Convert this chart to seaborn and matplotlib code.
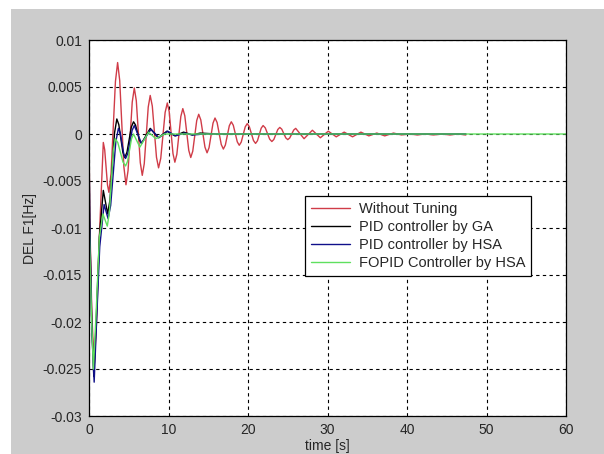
import matplotlib
matplotlib.use('Agg')
import matplotlib.pyplot as plt
from matplotlib.patches import Rectangle
import pandas as pd
import seaborn as sns

# Series (time in s, DEL F1 in Hz)
red_t = [0, 0.1, 0.35, 0.65, 0.95, 1.3, 1.8, 1.975, 2.325, 2.5, 2.775, 3.325,
         3.6, 3.8625, 4.3875, 4.65, 4.9125, 5.4375, 5.7, 5.95, 6.45, 6.7,
         6.95, 7.45, 7.7, 7.9625, 8.4875, 8.75, 9.025, 9.575, 9.85, 10.0875,
         10.5625, 10.8, 11.05, 11.55, 11.8, 12.05, 12.55, 12.8, 13.05, 13.55,
         13.8, 14.0625, 14.5875, 14.85, 15.1, 15.6, 15.85, 16.1125, 16.6375,
         16.9, 17.15, 17.65, 17.9, 18.15, 18.65, 18.9, 19.15, 19.65, 19.9,
         20.1625, 20.6875, 20.95, 21.19, 21.66, 21.9, 22.175, 22.725, 23.0,
         23.25, 23.75, 24.0, 24.25, 24.75, 25.0, 25.25, 25.75, 26.0, 27.05,
         28.1, 29.1, 30.1, 31.1, 32.1, 33.15, 34.2, 35.2, 36.2, 37.2, 38.3,
         39.3, 40.3, 41.3, 42.3, 43.35, 44.4, 45.4, 46.4, 47.4]
red_v = [0, -0.009, -0.019, -0.0248, -0.02, -0.011, -0.0009, -0.00168,
         -0.00542, -0.0062, -0.00418, 0.00558, 0.0076, 0.0057, -0.0035,
         -0.0054, -0.00389, 0.00339, 0.0049, 0.00354, -0.00304, -0.0044,
         -0.00316, 0.00286, 0.0041, 0.00297, -0.00247, -0.0036, -0.00259,
         0.00229, 0.0033, 0.00238, -0.00208, -0.0030, -0.00216, 0.00186,
         0.0027, 0.00194, -0.00174, -0.0025, -0.00183, 0.00143, 0.0021,
         0.00150, -0.00140, -0.0020, -0.00146, 0.00116, 0.0017, 0.00122,
         -0.00112, -0.0016, -0.00118, 0.00088, 0.0013, 0.00093, -0.00083,
         -0.0012, -0.00086, 0.00076, 0.0011, 0.00079, -0.00069, -0.0010,
         -0.00072, 0.00062, 0.0009, 0.00065, -0.00055, -0.0008, -0.00058,
         0.00048, 0.0007, 0.00051, -0.00041, -0.0006, -0.00042, 0.00042,
         0.0006, -0.0005, 0.0004, -0.0004, 0.0003, -0.0003, 0.0002, -0.0003,
         0.0002, -0.0002, 0.0001, -0.0002, 0.0001, -0.0001, 0.0, -0.0001,
         0.0, -0.0001, 0.0, -0.0001, 0.0, -0.0001]

ga_t = [0, 0.08, 0.35, 0.6, 0.9, 1.3, 1.8, 2.35, 2.6375, 3.2125, 3.5, 3.75,
        4.25, 4.5, 4.775, 5.325, 5.6, 5.85, 6.35, 6.6, 7.7, 8.7, 9.8, 10.8,
        11.9, 13.0, 14.0, 16, 20, 30, 40, 47.4]
ga_v = [0, -0.009, -0.02, -0.0258, -0.02, -0.011, -0.0060, -0.0085, -0.00702,
        0.00012, 0.0016, 0.0010, -0.0019, -0.0025, -0.00194, 0.00074, 0.0013,
        0.00096, -0.00066, -0.0010, 0.0006, -0.0004, 0.0003, -0.0002, 0.0002,
        -0.0001, 0.0001, 0, 0, 0, 0, 0]

hsa_t = [0, 0.08, 0.35, 0.65, 0.95, 1.35, 1.9, 2.4, 2.725, 3.375, 3.7, 3.925,
         4.375, 4.6, 4.875, 5.425, 5.7, 6.6, 7.8, 8.8, 9.9, 10.9, 12.0, 13.0,
         14.5, 20, 30, 40, 47.4]
hsa_v = [0, -0.009, -0.021, -0.0264, -0.02, -0.012, -0.0075, -0.0090, -0.0076,
         -0.0008, 0.0006, 0.00013, -0.00213, -0.0026, -0.00209, 0.00039,
         0.0009, -0.0010, 0.0005, -0.0004, 0.0003, -0.0002, 0.0001, -0.0001,
         0, 0, 0, 0, 0]

fopid_t = [0, 0.02, 0.3, 0.55, 0.9, 1.3, 1.75, 2.3, 2.55, 3.05, 3.3, 3.625,
           4.275, 4.6, 4.85, 5.35, 5.6, 6.4, 7.5, 8.4, 9.5, 11, 20, 30, 40,
           50, 60]
fopid_v = [0, -0.0092, -0.019, -0.0250, -0.019, -0.011, -0.0085, -0.0098,
           -0.00844, -0.00186, -0.0005, -0.00092, -0.00298, -0.0034, -0.0029,
           -0.0005, 0.0, -0.0014, 0.0002, -0.0005, 0.0, 0, 0, 0, 0, 0, 0]

labels = ['Without Tuning', 'PID controller by GA', 'PID controller by HSA',
          'FOPID Controller by HSA']
colors = ['#d03c48', '#000000', '#10108a', '#5fe05f']

xtick_vals = [0, 10, 20, 30, 40, 50, 60]
ytick_vals = [-0.03, -0.025, -0.02, -0.015, -0.01, -0.005, 0, 0.005, 0.01]
ytick_labels = ['-0.03', '-0.025', '-0.02', '-0.015', '-0.01', '-0.005', '0',
                '0.005', '0.01']

sns.set_theme(style='white')
plt.rcParams['font.family'] = ['Liberation Sans', 'DejaVu Sans']
plt.rcParams['text.color'] = '#262626'
plt.rcParams['axes.labelcolor'] = '#262626'
plt.rcParams['xtick.color'] = '#262626'
plt.rcParams['ytick.color'] = '#262626'

fig = plt.figure(figsize=(6.04, 4.54), dpi=100, facecolor='white')
# gray MATLAB-style figure background, offset from the top-left corner
bg = Rectangle((11 / 604, 0), 1 - 11 / 604, (454 - 9) / 454,
               transform=fig.transFigure, facecolor='#cccccc',
               edgecolor='none', zorder=-10)
fig.patches.append(bg)
ax = fig.add_axes([89 / 604, 1 - 416 / 454, 477 / 604, 376 / 454])
ax.set_zorder(1)
ax.set_facecolor('white')

series = [(red_t, red_v), (ga_t, ga_v), (hsa_t, hsa_v), (fopid_t, fopid_v)]
for (t, v), lab, col in zip(series, labels, colors):
    df = pd.DataFrame({'time': t, 'f1': v})
    sns.lineplot(data=df, x='time', y='f1', ax=ax, color=col, label=lab,
                 estimator=None, linewidth=1.0)

ax.set_xlim(0, 60)
ax.set_ylim(-0.03, 0.01)
ax.set_xticks(xtick_vals)
ax.set_xticklabels([str(x) for x in xtick_vals])
ax.set_yticks(ytick_vals)
ax.set_yticklabels(ytick_labels)
ax.tick_params(direction='in', length=3, width=0.8, labelsize=10, pad=5,
               color='black')
ax.grid(True, color='black', linestyle=(0, (3, 3)), linewidth=0.8)
ax.set_axisbelow(True)
for s in ax.spines.values():
    s.set_color('black')
    s.set_linewidth(0.9)

ax.set_xlabel('time [s]', fontsize=10)
ax.set_ylabel('DEL F1[Hz]', fontsize=10)
ax.xaxis.set_label_coords(0.5, -0.062)
ax.yaxis.set_label_coords(-0.108, 0.5)

leg = ax.legend(loc='upper left', bbox_to_anchor=(0.453, 0.585),
                borderaxespad=0, fontsize=10.5, handlelength=2.7,
                handletextpad=0.6, labelspacing=0.28, borderpad=0.4,
                fancybox=False, framealpha=1, edgecolor='black')
leg.get_frame().set_linewidth(0.9)

fig.savefig('out.png', dpi=100, facecolor='white')
